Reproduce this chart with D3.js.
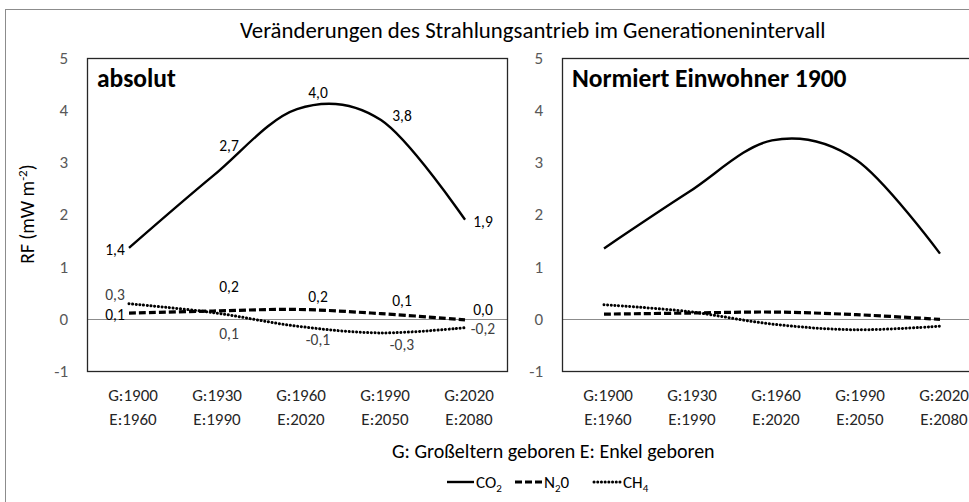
<!DOCTYPE html>
<html>
<head>
<meta charset="utf-8">
<style>
  body{
    margin: 0;
    background: white;
    font-family: Carlito, Calibri, Lato, 'Liberation Sans', Arial, sans-serif;
  }
</style>
</head>
<body>
<svg id='svgVis'></svg>
<script src="https://cdn.jsdelivr.net/npm/d3@7/dist/d3.min.js"></script>
<script>

// categories (grandparents born / grandchildren born)
var catG = ["G:1900", "G:1930", "G:1960", "G:1990", "G:2020"];
var catE = ["E:1960", "E:1990", "E:2020", "E:2050", "E:2080"];

// absolut
var absCO2 = [1.36, 2.74, 4.02, 3.81, 1.90];
var absN2O = [0.11, 0.15, 0.18, 0.10, -0.02];
var absCH4 = [0.29, 0.12, -0.14, -0.27, -0.17];

// normiert Einwohner 1900
var normCO2 = [1.35, 2.42, 3.42, 3.05, 1.25];
var normN2O = [0.09, 0.11, 0.13, 0.08, -0.01];
var normCH4 = [0.27, 0.14, -0.10, -0.21, -0.14];

// printed data labels (absolut panel only)
var lblCO2 = ["1,4", "2,7", "4,0", "3,8", "1,9"];
var lblN2O = ["0,1", "0,2", "0,2", "0,1", "0,0"];
var lblCH4 = ["0,3", "0,1", "-0,1", "-0,3", "-0,2"];

var yTicks = [-1, 0, 1, 2, 3, 4, 5];

var width = 969, height = 502;

var svg = d3.select("#svgVis")
    .attr("width", width)
    .attr("height", height);

// outer chart border (chart is cropped on right and bottom)
svg.append("rect")
  .attr("x", 5.5).attr("y", 9.5)
  .attr("width", 1200).attr("height", 600)
  .attr("fill", "none")
  .attr("stroke", "#8c8c8c");

svg.append("text")
  .attr("x", 240).attr("y", 38)
  .style("font-size", "22.8px")
  .attr("fill", "#000")
  .text("Veränderungen des Strahlungsantrieb im Generationenintervall");

var y = d3.scaleLinear().domain([-1, 5]).range([371, 58]);

var styles = {
  co2: {w: 2.4, dash: null, cap: "butt"},
  n2o: {w: 3.2, dash: "7,3", cap: "butt"},
  ch4: {w: 3, dash: "0.1,3.6", cap: "round"}
};

var line = d3.line()
  .curve(d3.curveCardinal.tension(0))
  .x(function(d) { return d.x; })
  .y(function(d) { return y(d.v); });

function drawPanel(x0, x1, title, series, labels) {

  var g = svg.append("g");

  var x = d3.scalePoint().domain(catG).range([x0, x1]).padding(0.5);

  // zero line
  g.append("line")
    .attr("x1", x0).attr("x2", x1)
    .attr("y1", Math.round(y(0)) + 0.5).attr("y2", Math.round(y(0)) + 0.5)
    .attr("stroke", "#8c8c8c");

  // plot frame
  g.append("rect")
    .attr("x", x0 + 0.5).attr("y", y(5) + 0.5)
    .attr("width", x1 - x0).attr("height", y(-1) - y(5))
    .attr("fill", "none")
    .attr("stroke", "#262626")
    .attr("stroke-width", 1.3);

  // y tick labels
  g.selectAll(".ytick")
    .data(yTicks)
    .enter()
    .append("text")
    .attr("x", x0 - 19)
    .attr("y", function(d) { return y(d); })
    .attr("dy", "0.35em")
    .attr("text-anchor", "end")
    .style("font-size", "17px")
    .attr("fill", "#595959")
    .text(function(d) { return d; });

  // category labels, two rows
  g.selectAll(".xg")
    .data(catG)
    .enter()
    .append("text")
    .attr("x", function(d) { return x(d) + 4; })
    .attr("y", 401)
    .attr("text-anchor", "middle")
    .style("font-size", "17px")
    .attr("fill", "#262626")
    .text(function(d) { return d; });

  g.selectAll(".xe")
    .data(catE)
    .enter()
    .append("text")
    .attr("x", function(d, i) { return x(catG[i]) + 4; })
    .attr("y", 425)
    .attr("text-anchor", "middle")
    .style("font-size", "17px")
    .attr("fill", "#262626")
    .text(function(d) { return d; });

  g.append("text")
    .attr("x", x0 + 10).attr("y", 87)
    .style("font-size", "25.5px")
    .style("font-weight", "bold")
    .attr("fill", "#000")
    .text(title);

  series.forEach(function(s) {
    var pts = s.values.map(function(v, i) { return {x: x(catG[i]), v: v}; });
    var st = styles[s.key];
    g.append("path")
      .attr("d", line(pts))
      .attr("fill", "none")
      .attr("stroke", "#000")
      .attr("stroke-width", st.w)
      .attr("stroke-linecap", st.cap)
      .attr("stroke-dasharray", st.dash);
  });

  if (labels) {
    // label columns sit slightly right of the points (as in the source)
    var colDx = [-14, 16, 21, 21, 18];
    labels.forEach(function(l) {
      var s = series.filter(function(q) { return q.key == l.key; })[0];
      g.selectAll(".lbl-" + l.key)
        .data(l.text)
        .enter()
        .append("text")
        .attr("x", function(d, i) { return x(catG[i]) + colDx[i]; })
        .attr("y", function(d, i) { return y(s.values[i]) + l.dy[i]; })
        .attr("dy", "0.35em")
        .attr("text-anchor", "middle")
        .style("font-size", "15.5px")
        .attr("fill", l.color)
        .text(function(d) { return d; });
    });
  }
}

drawPanel(87, 507, "absolut", [
  {key: "co2", values: absCO2},
  {key: "n2o", values: absN2O},
  {key: "ch4", values: absCH4}
], [
  {key: "co2", text: lblCO2, dy: [2, -30, -17, -5, 2], color: "#000"},
  {key: "n2o", text: lblN2O, dy: [1, -24, -13, -13, -10], color: "#000"},
  {key: "ch4", text: lblCH4, dy: [-9, 21, 13, 12, 1], color: "#404040"}
]);

drawPanel(562, 982, "Normiert Einwohner 1900", [
  {key: "co2", values: normCO2},
  {key: "n2o", values: normN2O},
  {key: "ch4", values: normCH4}
], null);

// y axis title
var yt = svg.append("text")
  .attr("transform", "translate(34,214) rotate(-90)")
  .attr("text-anchor", "middle")
  .style("font-size", "19.5px")
  .attr("fill", "#000");
yt.append("tspan").text("RF (mW m");
yt.append("tspan").attr("dy", -7).style("font-size", "13px").text("-2");
yt.append("tspan").attr("dy", 7).text(")");

// x axis title
svg.append("text")
  .attr("x", 392).attr("y", 458)
  .style("font-size", "20px")
  .attr("fill", "#000")
  .text("G: Großeltern geboren E: Enkel geboren");

// legend
var legend = [
  {key: "co2", base: "CO", sub: "2", rest: "", x: 447},
  {key: "n2o", base: "N", sub: "2", rest: "0", x: 515},
  {key: "ch4", base: "CH", sub: "4", rest: "", x: 594}
];

legend.forEach(function(d) {
  var st = styles[d.key];
  svg.append("line")
    .attr("x1", d.x).attr("x2", d.x + 27)
    .attr("y1", 482).attr("y2", 482)
    .attr("stroke", "#000")
    .attr("stroke-width", st.w)
    .attr("stroke-linecap", st.cap)
    .attr("stroke-dasharray", st.dash);
  var t = svg.append("text")
    .attr("x", d.x + 29).attr("y", 488)
    .style("font-size", "17px")
    .attr("fill", "#000");
  t.append("tspan").text(d.base);
  t.append("tspan").attr("dy", 4).style("font-size", "11px").text(d.sub);
  if (d.rest) t.append("tspan").attr("dy", -4).text(d.rest);
});

</script>
</body>
</html>
